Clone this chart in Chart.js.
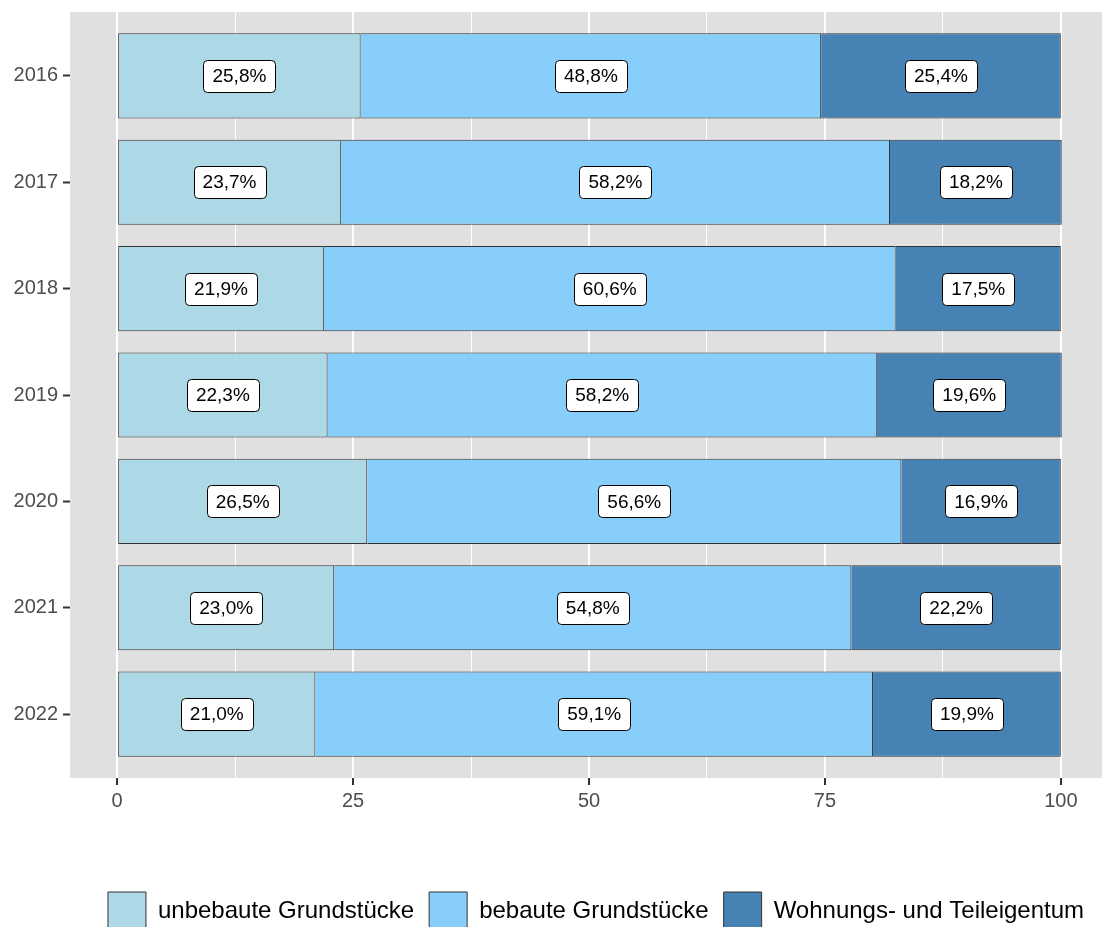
<!DOCTYPE html>
<html>
<head>
<meta charset="utf-8">
<script src="https://cdn.jsdelivr.net/npm/chart.js@4"></script>
<style>
    html, body { margin: 0; padding: 0; background: #fff; overflow: hidden; }
</style>
</head>
<body>
<canvas id="chartAnteile" width="1110" height="950"></canvas>
<script>
const jahre = ["2016", "2017", "2018", "2019", "2020", "2021", "2022"];
const unbebaut = [25.8, 23.7, 21.9, 22.3, 26.5, 23.0, 21.0];
const bebaut = [48.8, 58.2, 60.6, 58.2, 56.6, 54.8, 59.1];
const wohnungen = [25.4, 18.2, 17.5, 19.6, 16.9, 22.2, 19.9];
const reihen = ["unbebaute Grundstücke", "bebaute Grundstücke", "Wohnungs- und Teileigentum"];
const farben = ["#ADD8E6", "#87CEFA", "#4682B4"];
const xTicks = [0, 12.5, 25, 37.5, 50, 62.5, 75, 87.5, 100];

const SCHRIFT = '"Liberation Sans", Arial, sans-serif';

const alsPunkte = (werte) => werte.map((v, i) => ({ x: v, y: i + 1 }));

// grauer Panel-Hintergrund wie bei ggplot
const panelHintergrund = {
    id: "panelHintergrund",
    afterLayout(chart) {
        // Legende etwas nach rechts, wie im Original
        chart.legend.left += 7;
        chart.legend.right += 7;
    },
    beforeDraw(chart) {
        const { ctx, chartArea: a } = chart;
        ctx.save();
        ctx.fillStyle = "#E0E0E0";
        ctx.fillRect(a.left, a.top, a.right - a.left, a.bottom - a.top);
        ctx.restore();
    },
};

// weisse Label-Kaesten in der Mitte jedes Segments
const balkenLabels = {
    id: "balkenLabels",
    afterDatasetsDraw(chart) {
        const ctx = chart.ctx;
        ctx.save();
        ctx.font = `19px ${SCHRIFT}`;
        ctx.textAlign = "center";
        ctx.textBaseline = "middle";
        chart.data.datasets.forEach((ds, di) => {
            chart.getDatasetMeta(di).data.forEach((bar, i) => {
                const txt = ds.data[i].x.toFixed(1).replace(".", ",") + "%";
                const cx = (bar.x + bar.base) / 2;
                const cy = bar.y;
                const w = Math.round(ctx.measureText(txt).width + 18);
                const h = 32;
                const x0 = Math.round(cx - w / 2) + 0.5;
                const y0 = Math.round(cy - h / 2) + 0.5;
                ctx.beginPath();
                ctx.roundRect(x0, y0, w, h, 4);
                ctx.fillStyle = "#fff";
                ctx.fill();
                ctx.lineWidth = 1;
                ctx.strokeStyle = "#000";
                ctx.stroke();
                ctx.fillStyle = "#000";
                ctx.fillText(txt, cx, cy + 1);
            });
        });
        ctx.restore();
    },
};

const datensaetze = [unbebaut, bebaut, wohnungen].map((werte, i) => ({
    label: reihen[i],
    data: alsPunkte(werte),
    backgroundColor: farben[i],
    borderColor: "#333333",
    borderWidth: 1,
    borderSkipped: i === 0 ? false : "start",
    barPercentage: 0.8,
    categoryPercentage: 1,
}));

new Chart(document.getElementById("chartAnteile").getContext("2d"), {
    type: "bar",
    data: { datasets: datensaetze },
    plugins: [panelHintergrund, balkenLabels],
    options: {
        indexAxis: "y",
        responsive: false,
        animation: false,
        events: [],
        layout: { padding: { top: 12, right: 2, bottom: 10, left: 0 } },
        scales: {
            x: {
                type: "linear",
                stacked: true,
                min: -5,
                max: 105,
                afterBuildTicks: (s) => { s.ticks = xTicks.map((v) => ({ value: v })); },
                afterFit: (s) => {
                    s.height = 99;
                    s.paddingLeft = 0;
                    s.paddingRight = 0;
                },
                border: { display: false },
                grid: {
                    color: "#FFFFFF",
                    lineWidth: (c) => (c.tick && c.tick.value % 25 === 0 ? 2 : 1),
                    tickColor: (c) => (c.tick && c.tick.value % 25 === 0 ? "#333333" : "rgba(0,0,0,0)"),
                    tickLength: 7,
                    tickWidth: 2,
                },
                ticks: {
                    autoSkip: false,
                    maxRotation: 0,
                    padding: 4,
                    color: "#4D4D4D",
                    font: { family: SCHRIFT, size: 20 },
                    callback: (v) => (v % 25 === 0 ? String(v) : ""),
                },
            },
            y: {
                type: "linear",
                stacked: true,
                reverse: true,
                offset: false,
                min: 0.4,
                max: 7.6,
                afterBuildTicks: (s) => { s.ticks = jahre.map((_, i) => ({ value: i + 1 })); },
                afterFit: (s) => {
                    s.width = 70;
                    s.paddingTop = 0;
                    s.paddingBottom = 0;
                },
                border: { display: false },
                grid: {
                    offset: false,
                    drawOnChartArea: false,
                    tickColor: "#333333",
                    tickLength: 7,
                    tickWidth: 2,
                },
                ticks: {
                    padding: 5,
                    color: "#4D4D4D",
                    font: { family: SCHRIFT, size: 20 },
                    callback: (v) => jahre[Math.round(v) - 1],
                },
            },
        },
        plugins: {
            tooltip: { enabled: false },
            legend: {
                position: "bottom",
                fullSize: false,
                labels: {
                    boxWidth: 38,
                    boxHeight: 38,
                    padding: 15,
                    color: "#000000",
                    font: { family: SCHRIFT, size: 24 },
                },
            },
        },
    },
});
</script>
</body>
</html>
